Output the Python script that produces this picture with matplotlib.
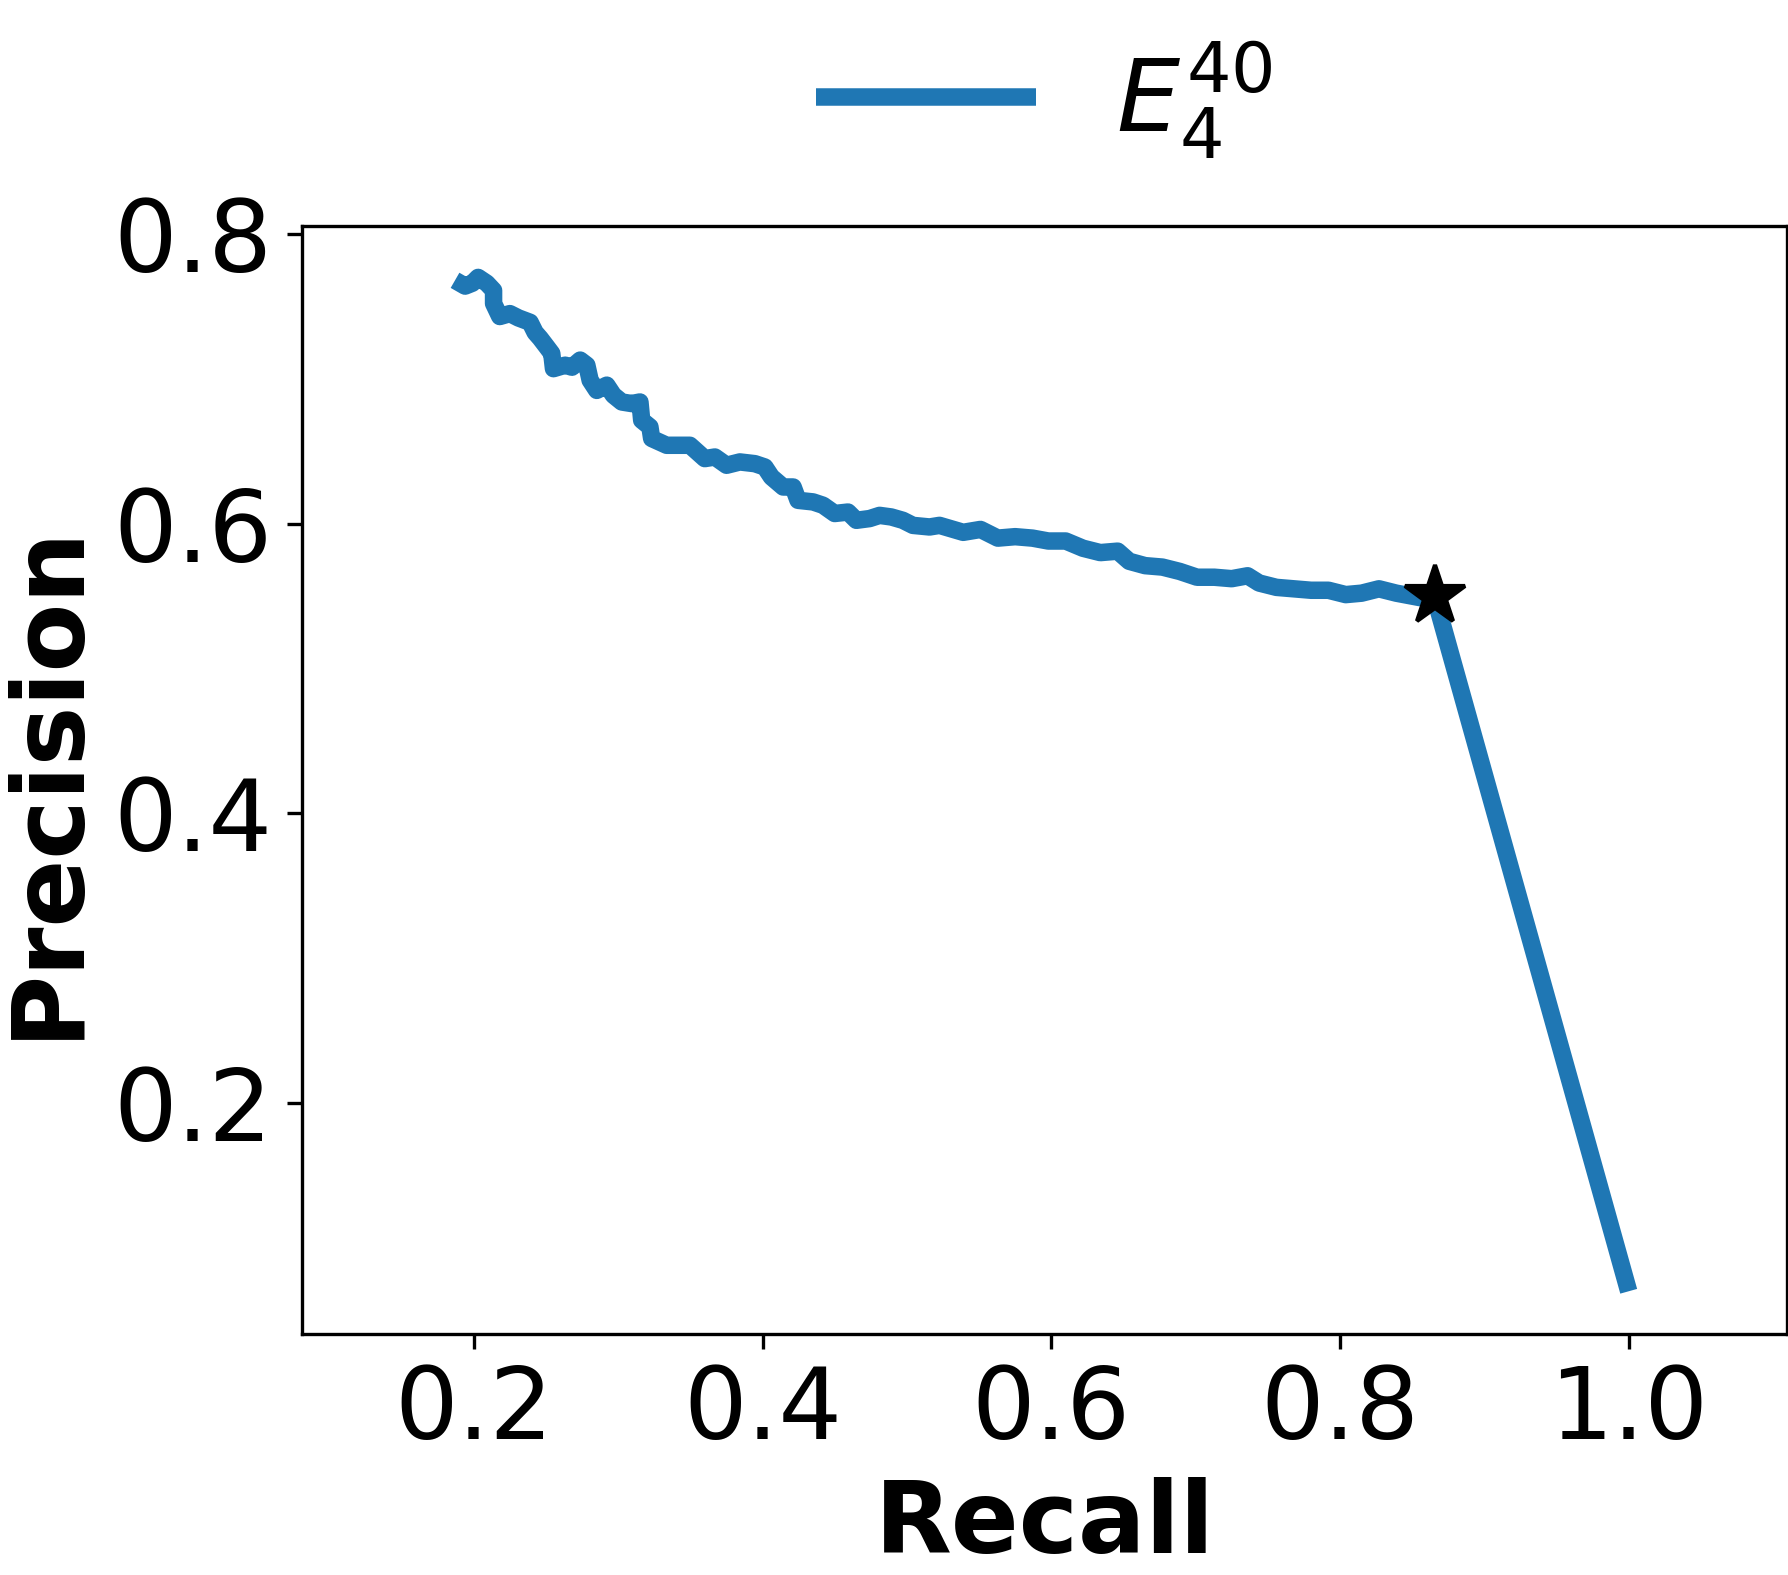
import matplotlib
matplotlib.use("Agg")
from matplotlib import pyplot as plt

# precision-recall curve
recall = [0.187, 0.194, 0.199, 0.203, 0.209, 0.2137, 0.2137, 0.218, 0.225, 0.231,
          0.239, 0.2425, 0.246, 0.2506, 0.254, 0.2552, 0.2633, 0.268, 0.2737, 0.2783,
          0.2806, 0.2852, 0.2921, 0.2967, 0.3025, 0.3094, 0.3151, 0.3163, 0.322, 0.3232,
          0.3336, 0.3428, 0.3497, 0.360, 0.367, 0.3751, 0.3843, 0.3947, 0.4016, 0.4062,
          0.4143, 0.4212, 0.4246, 0.435, 0.4419, 0.45, 0.4592, 0.465, 0.4742, 0.4811,
          0.4892, 0.4972, 0.5042, 0.5157, 0.5226, 0.539, 0.551, 0.563, 0.575, 0.587,
          0.598, 0.610, 0.622, 0.634, 0.646, 0.654, 0.665, 0.677, 0.689, 0.701,
          0.713, 0.725, 0.736, 0.744, 0.756, 0.768, 0.780, 0.792, 0.804, 0.815,
          0.827, 0.839, 0.855, 0.866, 1.0]
precision = [0.768, 0.764, 0.766, 0.770, 0.766, 0.761, 0.752, 0.743, 0.745, 0.742,
             0.739, 0.732, 0.728, 0.722, 0.7175, 0.707, 0.7094, 0.708, 0.7129, 0.7094,
             0.699, 0.692, 0.6956, 0.6887, 0.684, 0.6829, 0.684, 0.6714, 0.6668, 0.6588,
             0.6541, 0.6541, 0.6541, 0.6449, 0.646, 0.6403, 0.6426, 0.6414, 0.6391, 0.6322,
             0.6253, 0.6253, 0.6161, 0.615, 0.6127, 0.607, 0.608, 0.6023, 0.6035, 0.6057,
             0.6046, 0.6023, 0.5988, 0.5977, 0.5988, 0.594, 0.596, 0.590, 0.591, 0.590,
             0.588, 0.588, 0.583, 0.580, 0.581, 0.574, 0.571, 0.570, 0.567, 0.563,
             0.563, 0.562, 0.564, 0.559, 0.556, 0.555, 0.554, 0.554, 0.551, 0.552,
             0.555, 0.552, 0.549, 0.548, 0.070]
best_recall = [0.866]
best_precision = [0.550]
series_label = r"$E_4^{40}$"

xticks = [0.2, 0.4, 0.6, 0.8, 1.0]
yticks = [0.2, 0.4, 0.6, 0.8]

fig = plt.figure(figsize=(1789 / 300, 1575 / 300), dpi=300)
ax = fig.add_axes([302 / 1789, 241 / 1575, 1485.5 / 1789, 1108 / 1575])

ax.plot(recall, precision, color="#1f77b4", lw=4.2, solid_joinstyle="round",
        solid_capstyle="butt", label=series_label)
ax.plot(best_recall, best_precision, marker="*", color="k", ms=15, ls="none", zorder=5)

ax.set_xlim(0.081, 1.110)
ax.set_ylim(0.0405, 0.8055)
ax.set_xticks(xticks)
ax.set_yticks(yticks)
ax.tick_params(labelsize=24)
ax.set_xlabel("Recall", fontsize=24, fontweight="bold")
ax.set_ylabel("Precision", fontsize=24, fontweight="bold")

ax.legend(loc="lower center", bbox_to_anchor=(0.5, 0.977), frameon=False,
          fontsize=24, handlelength=2.2)

fig.savefig("out.png", dpi=300)
